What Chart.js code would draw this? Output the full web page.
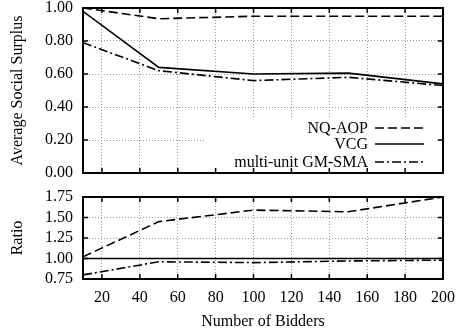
<!DOCTYPE html>
<html>
<head>
<meta charset="utf-8">
<script src="https://cdn.jsdelivr.net/npm/chart.js@4/dist/chart.umd.min.js"></script>
<style>
  body { margin: 0; background: #fff; }
  .wrap { position: absolute; left: 0; width: 459px; }
</style>
</head>
<body>
<div class="wrap" style="top:0;height:185px"><canvas id="surplus" width="459" height="185"></canvas></div>
<div class="wrap" style="top:185px;height:149px"><canvas id="ratio" width="459" height="149"></canvas></div>
<script>
const bidders = [10, 50, 100, 150, 200];
const xTicks = [20, 40, 60, 80, 100, 120, 140, 160, 180, 200];

const nqAop = [1.00, 0.935, 0.95, 0.95, 0.95];
const vcg = [0.98, 0.64, 0.60, 0.605, 0.54];
const gmSma = [0.79, 0.62, 0.56, 0.58, 0.53];

const nqRatio = [1.02, 1.45, 1.59, 1.57, 1.75];
const vcgRatio = [1.00, 1.00, 1.00, 1.00, 1.00];
const gmRatio = [0.80, 0.96, 0.95, 0.97, 0.98];

const seriesNames = ['NQ-AOP', 'VCG', 'multi-unit GM-SMA'];
const dashes = [[9, 4], [], [9, 3, 2, 3]];

const FONT = { family: '"Liberation Serif", "DejaVu Serif", serif', size: 16 };
const AXIS_W = 83;

function pts(vals) {
  return bidders.map((b, i) => ({ x: b, y: vals[i] }));
}

function makeSets(list) {
  return list.map((vals, i) => ({
    label: seriesNames[i],
    data: pts(vals),
    borderColor: '#000',
    borderWidth: 1.6,
    borderDash: dashes[i],
    pointRadius: 0,
    fill: false,
    tension: 0
  }));
}

// inward tick marks + box around the plot area
const framePlugin = {
  id: 'frame',
  afterDraw(chart) {
    const { ctx, chartArea: a, scales } = chart;
    const x = scales.x, y = scales.y;
    ctx.save();
    ctx.setLineDash([]);
    ctx.strokeStyle = '#000';
    ctx.lineWidth = 1.5;
    ctx.beginPath();
    x.ticks.forEach(t => {
      const px = x.getPixelForValue(t.value);
      ctx.moveTo(px, a.top); ctx.lineTo(px, a.top + 5);
      ctx.moveTo(px, a.bottom); ctx.lineTo(px, a.bottom - 5);
    });
    y.ticks.forEach(t => {
      const py = y.getPixelForValue(t.value);
      ctx.moveTo(a.left, py); ctx.lineTo(a.left + 5, py);
      ctx.moveTo(a.right, py); ctx.lineTo(a.right - 5, py);
    });
    ctx.stroke();
    ctx.lineWidth = 2;
    ctx.strokeRect(a.left, a.top, a.right - a.left, a.bottom - a.top);
    ctx.restore();
  }
};

// legend inside the plot, text on the left, line sample on the right
const insideLegend = {
  id: 'insideLegend',
  afterDatasetsDraw(chart) {
    const { ctx, chartArea: a } = chart;
    ctx.save();
    ctx.fillStyle = '#fff';
    ctx.fillRect(205, 117, a.right - 6 - 205, a.bottom - 1 - 117);
    ctx.font = FONT.size + 'px ' + FONT.family;
    ctx.textAlign = 'right';
    ctx.textBaseline = 'middle';
    const rows = [a.bottom - 45, a.bottom - 29, a.bottom - 11];
    chart.data.datasets.forEach((ds, i) => {
      const yy = rows[i];
      ctx.fillStyle = '#000';
      ctx.fillText(ds.label, a.right - 75, yy + 1);
      ctx.strokeStyle = '#000';
      ctx.lineWidth = 1.6;
      ctx.setLineDash(ds.borderDash);
      ctx.beginPath();
      ctx.moveTo(a.right - 68, yy);
      ctx.lineTo(a.right - 19, yy);
      ctx.stroke();
    });
    ctx.restore();
  }
};

function xScale(showLabels, height) {
  return {
    type: 'linear',
    min: 10,
    max: 200,
    afterBuildTicks: s => { s.ticks = xTicks.map(v => ({ value: v })); },
    afterFit: s => { s.height = height; s.paddingLeft = 0; s.paddingRight = 0; },
    grid: { color: '#999', lineWidth: 1, drawTicks: false },
    border: { display: false, dash: [1, 2] },
    ticks: { display: showLabels, autoSkip: false, color: '#000', font: FONT, padding: 9, maxRotation: 0 },
    title: showLabels
      ? { display: true, text: 'Number of Bidders', color: '#000', font: FONT, padding: { top: 0, bottom: 3 } }
      : { display: false }
  };
}

function yScale(min, max, step, title) {
  return {
    min: min,
    max: max,
    afterBuildTicks: s => {
      const t = [];
      for (let v = min; v <= max + 1e-9; v += step) t.push({ value: +v.toFixed(2) });
      s.ticks = t;
    },
    afterFit: s => { s.width = AXIS_W; s.paddingTop = 0; s.paddingBottom = 0; },
    grid: { color: '#999', lineWidth: 1, drawTicks: false },
    border: { display: false, dash: [1, 2] },
    ticks: { autoSkip: false, color: '#000', font: FONT, padding: 10, callback: v => v.toFixed(2) },
    title: { display: true, text: title, color: '#000', font: FONT, padding: { top: 8, bottom: 0 } }
  };
}

Chart.defaults.font.family = FONT.family;

new Chart(document.getElementById('surplus'), {
  type: 'line',
  data: { datasets: makeSets([nqAop, vcg, gmSma]) },
  options: {
    responsive: false,
    animation: false,
    devicePixelRatio: 1,
    layout: { padding: { left: 0, right: 16, top: 8, bottom: 0 } },
    plugins: { legend: { display: false }, tooltip: { enabled: false } },
    scales: {
      x: xScale(false, 12),
      y: yScale(0, 1, 0.2, 'Average Social Surplus')
    }
  },
  plugins: [insideLegend, framePlugin]
});

new Chart(document.getElementById('ratio'), {
  type: 'line',
  data: { datasets: makeSets([nqRatio, vcgRatio, gmRatio]) },
  options: {
    responsive: false,
    animation: false,
    devicePixelRatio: 1,
    layout: { padding: { left: 0, right: 16, top: 12, bottom: 0 } },
    plugins: { legend: { display: false }, tooltip: { enabled: false } },
    scales: {
      x: xScale(true, 55),
      y: yScale(0.75, 1.75, 0.25, 'Ratio')
    }
  },
  plugins: [framePlugin]
});
</script>
</body>
</html>
